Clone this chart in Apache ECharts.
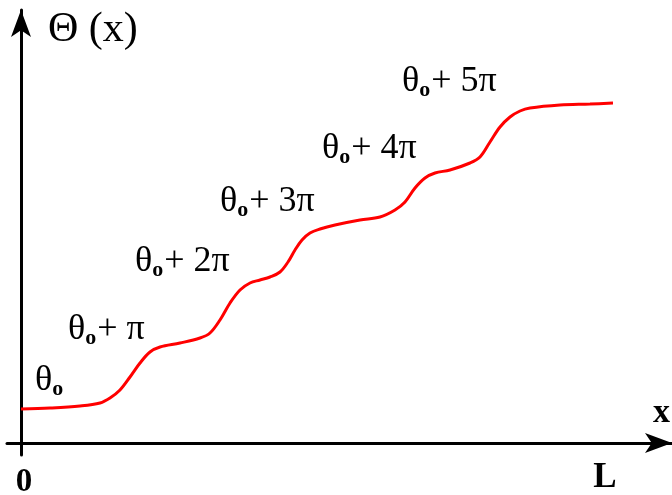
<!DOCTYPE html>
<html>
<head>
<meta charset="utf-8">
<script src="https://cdn.jsdelivr.net/npm/echarts@6/dist/echarts.min.js"></script>
<style>
  html, body { margin: 0; padding: 0; background: #fff; }
  #chart { width: 672px; height: 495px; }
</style>
</head>
<body>
<div id="chart"></div>
<script>
// position along the sample (0 .. L, L = 584)
const xs = [0, 29, 59, 79, 89, 99, 109, 119, 129, 139, 159, 179, 189, 199, 209, 219, 229, 239, 249, 259,
  267, 274, 281, 289, 299, 314, 339, 359, 374, 384, 394, 404, 414, 429, 449, 459, 469, 479, 489, 499,
  509, 539, 569, 592];
// phase Θ(x), staircase with steps of π
const ys = [34, 35, 37, 40, 45, 53, 66, 80, 91, 96, 100, 105, 110, 123, 140, 153, 160, 163, 166, 171,
  181, 193, 203, 210, 214, 218, 223, 226, 233, 241, 255, 265, 270, 273, 280, 286, 301, 316, 326, 332,
  335, 338, 339, 340];

// step labels: [x, y, multiple of π]
const stepLabels = [
  [14, 43, ''],
  [47, 94, 'π'],
  [114, 162, '2π'],
  [199, 222, '3π'],
  [301, 275, '4π'],
  [381, 342, '5π']
];

const L = 584;
const serif = '"Liberation Serif", "DejaVu Serif", serif';

const chart = echarts.init(document.getElementById('chart'));

const curve = xs.map((x, i) => [x, ys[i]]);

const axisLine = {
  onZero: true,
  symbol: ['none', 'arrow'],
  symbolSize: [15, 27],
  lineStyle: { color: '#000', width: 3 }
};

chart.setOption({
  animation: false,
  grid: { left: 7, right: 0, top: 10, bottom: 40 },
  xAxis: {
    type: 'value', min: -14, max: 651,
    axisLine: axisLine,
    axisTick: { show: false }, axisLabel: { show: false }, splitLine: { show: false }
  },
  yAxis: {
    type: 'value', min: -12, max: 433,
    axisLine: axisLine,
    axisTick: { show: false }, axisLabel: { show: false }, splitLine: { show: false }
  },
  series: [{
    type: 'line',
    data: curve,
    smooth: 0.35,
    showSymbol: false,
    lineStyle: { color: '#ff0000', width: 3 }
  }]
});

// text annotations placed through the axes
const px = (x, y) => chart.convertToPixel({ gridIndex: 0 }, [x, y]);

const rich = {
  t: { fontFamily: serif, fontSize: 36, fill: '#000' },
  s: { fontFamily: serif, fontSize: 22, fontWeight: 'bold', fill: '#000', padding: [16, 1, 0, 0] }
};

const graphics = stepLabels.map(([x, y, m]) => {
  const p = px(x, y);
  return {
    type: 'text', x: p[0], y: p[1],
    style: {
      text: '{t|θ}{s|o}' + (m ? '{t|+ ' + m + '}' : ''),
      rich: rich, verticalAlign: 'bottom'
    }
  };
});

const p0 = px(0, 0), pL = px(L, 0);
graphics.push(
  { type: 'text', x: 48, y: 9, style: { text: 'Θ (x)', fontFamily: serif, fontSize: 42, fill: '#000' } },
  { type: 'text', x: 653, y: 396, style: { text: 'x', fontFamily: serif, fontSize: 34, fontWeight: 'bold', fill: '#000' } },
  { type: 'text', x: p0[0] + 3, y: 466, style: { text: '0', fontFamily: serif, fontSize: 33, fontWeight: 'bold', fill: '#000', align: 'center' } },
  { type: 'text', x: pL[0], y: 460, style: { text: 'L', fontFamily: serif, fontSize: 35, fontWeight: 'bold', fill: '#000', align: 'center' } }
);

chart.setOption({ graphic: graphics });
</script>
</body>
</html>
